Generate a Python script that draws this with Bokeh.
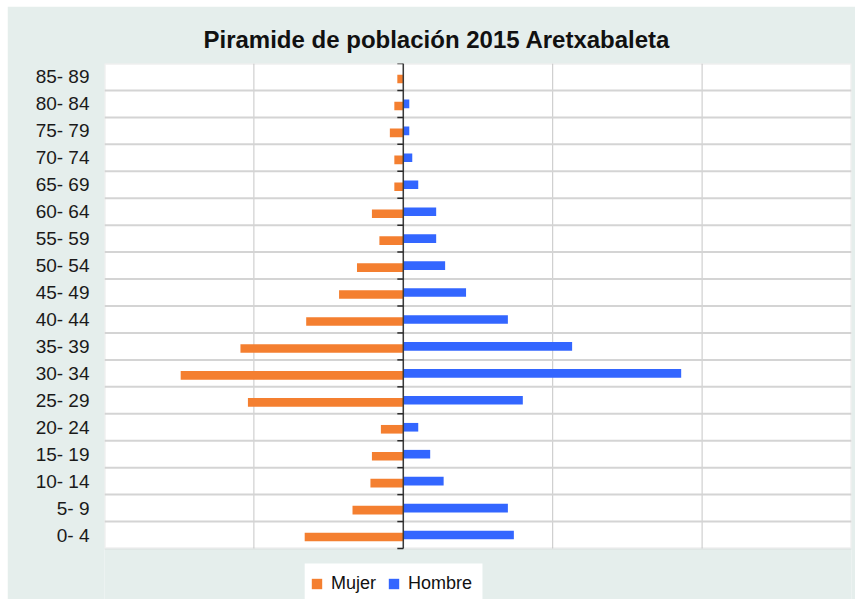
from bokeh.plotting import figure
from bokeh.models import (ColumnDataSource, FixedTicker, Legend, LegendItem, Range1d, BoxAnnotation)
from bokeh.transform import dodge
from bokeh.embed import file_html
from bokeh.resources import INLINE

# ---- data (bottom to top) ----
categories = ["0- 4", "5- 9", "10- 14", "15- 19", "20- 24", "25- 29", "30- 34", "35- 39",
              "40- 44", "45- 49", "50- 54", "55- 59", "60- 64", "65- 69", "70- 74",
              "75- 79", "80- 84", "85- 89"]
mujer = [66, 34, 22, 21, 15, 104, 149, 109, 65, 43, 31, 16, 21, 6, 6, 9, 6, 4]
hombre = [74, 70, 27, 18, 10, 80, 186, 113, 70, 42, 28, 22, 22, 10, 6, 4, 4, 0]
x_ticks = [-200, -100, 0, 100, 200, 300]

BG = "#e5eeec"
n = len(categories)
ypos = list(range(n))
bounds = [i - 0.5 for i in range(n + 1)]
src = ColumnDataSource(dict(
    y=ypos,
    cat=categories,
    mujer_left=[-v for v in mujer],
    hombre=hombre,
    zero=[0] * n,
))

# plot area spans 485px for n rows; the frame extends 51px lower to host the legend
row_px = 485 / n
extra = 51 / row_px
p = figure(width=848, height=593, output_backend="svg", toolbar_location=None,
           x_range=Range1d(x_ticks[0], x_ticks[-1]),
           y_range=Range1d(-0.5 - extra, n - 0.5),
           min_border_left=97, min_border_right=4, min_border_top=57, min_border_bottom=0)
p.margin = (6, 0, 0, 7)

p.background_fill_color = BG
p.border_fill_color = BG
p.outline_line_color = None
p.grid.visible = False

p.title.text = "Piramide de población 2015 Aretxabaleta"
p.title.text_font = "Liberation Sans"
p.title.text_font_style = "bold"
p.title.text_font_size = "24px"
p.title.text_color = "#111111"
p.title.align = "left"
p.title.offset = 99
p.title.standoff = 21

# white plot area with light border
p.add_layout(BoxAnnotation(left=x_ticks[0], right=x_ticks[-1], bottom=bounds[0], top=bounds[-1],
                           fill_color="white", fill_alpha=1.0,
                           line_color="#cccccc", line_width=2.5, level="image"))
# white legend panel below the plot area
p.add_layout(BoxAnnotation(left=-66, right=53, top=-1.06, bottom=-0.5 - extra - 1,
                           fill_color="white", fill_alpha=1.0, line_color=None, level="image"))

# grid lines (inside the plot area only)
inner_x = x_ticks[1:-1]
p.segment(x0=inner_x, x1=inner_x, y0=[bounds[0]] * len(inner_x), y1=[bounds[-1]] * len(inner_x),
          line_color="#c6c6c6", line_width=1)
inner_y = bounds[1:-1]
p.segment(x0=[x_ticks[0]] * len(inner_y), x1=[x_ticks[-1]] * len(inner_y), y0=inner_y, y1=inner_y,
          line_color="#d4d4d4", line_width=2)

# bars
r_m = p.hbar(y=dodge("y", -0.075, range=p.y_range), left="mujer_left", right="zero",
             height=0.32, source=src, fill_color="#f47f30", line_color=None)
r_h = p.hbar(y="y", left="zero", right="hombre", height=0.32, source=src,
             fill_color="#3366ff", line_color=None)

# axes
p.xaxis.visible = False
p.yaxis.ticker = FixedTicker(ticks=ypos)
p.yaxis.major_label_overrides = {i: c for i, c in zip(ypos, categories)}
p.yaxis.axis_line_color = None
p.yaxis.major_tick_line_color = None
p.yaxis.minor_tick_line_color = None
p.yaxis.major_tick_out = 0
p.yaxis.major_tick_in = 0
p.yaxis.major_label_standoff = 15
p.yaxis.major_label_text_font = "Liberation Sans"
p.yaxis.major_label_text_font_size = "19px"
p.yaxis.major_label_text_color = "#1a1a1a"

# zero axis line with boundary ticks
p.segment(x0=[0], x1=[0], y0=[bounds[0]], y1=[bounds[-1]], line_color="#3a3a3a", line_width=1.5)
p.segment(x0=[-4] * len(bounds), x1=[0] * len(bounds), y0=bounds, y1=bounds,
          line_color="#2a2a2a", line_width=1.5)

legend = Legend(items=[LegendItem(label="Mujer", renderers=[r_m]),
                       LegendItem(label="Hombre", renderers=[r_h])],
                orientation="horizontal", location=(206, 5),
                background_fill_alpha=0.0,
                border_line_color=None,
                label_text_font="Liberation Sans", label_text_font_size="18px",
                label_text_color="#111111",
                glyph_width=13, glyph_height=13, label_standoff=8, spacing=11,
                padding=11, label_height=14, margin=0)
p.add_layout(legend)

open("out.html", "w").write(file_html(p, INLINE))
